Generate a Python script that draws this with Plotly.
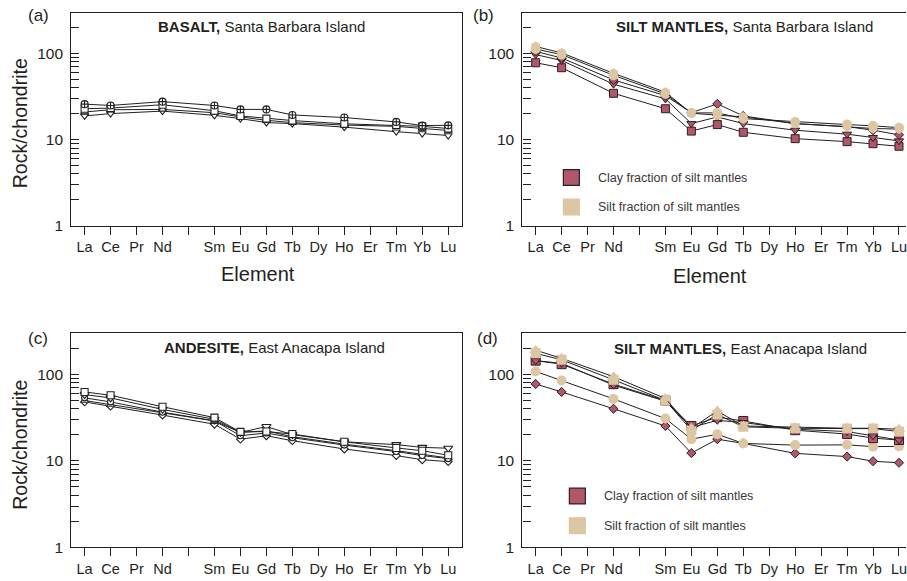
import math
import plotly.graph_objects as go

W, H = 907, 581

# ---------------- data ----------------
elements = ["La", "Ce", "Pr", "Nd", "Pm", "Sm", "Eu", "Gd", "Tb", "Dy", "Ho", "Er", "Tm", "Yb", "Lu"]
element_labels = ["La", "Ce", "Pr", "Nd", "", "Sm", "Eu", "Gd", "Tb", "Dy", "Ho", "Er", "Tm", "Yb", "Lu"]
analysed = ["La", "Ce", "Nd", "Sm", "Eu", "Gd", "Tb", "Ho", "Tm", "Yb", "Lu"]

# (a) basalt, Santa Barbara Island
basalt_1 = [25.9, 25.0, 27.7, 25.0, 22.5, 22.5, 19.4, 18.1, 16.1, 14.6, 14.7]
basalt_2 = [22.9, 23.3, 25.5, 21.7, 18.9, 17.6, 16.7, 15.3, 14.8, 14.3, 13.5]
basalt_3 = [21.0, 22.3, 22.5, 20.6, 18.4, 16.8, 15.8, 14.8, 14.3, 13.5, 12.8]
basalt_4 = [18.9, 20.1, 21.5, 19.2, 17.6, 15.8, 15.4, 14.0, 12.4, 11.8, 11.2]

# (b) silt mantles, Santa Barbara Island
sbi_clay_1 = [78.3, 68.6, 34.6, 22.9, 12.6, 15.0, 12.2, 10.3, 9.5, 9.0, 8.4]
sbi_clay_2 = [97.4, 83.2, 44.2, 29.8, 15.4, 18.4, 15.4, 12.9, 11.6, 10.6, 9.7]
sbi_clay_3 = [106, 89.0, 49.5, 32.5, 20.6, 26.1, 18.9, 15.4, 14.2, 12.9, 11.4]
sbi_silt_1 = [113, 97.4, 56.0, 34.0, 20.5, 20.5, 17.6, 16.1, 15.0, 14.5, 13.8]
sbi_silt_2 = [121, 102, 59.0, 35.6, 20.3, 19.2, 18.4, 15.4, 14.2, 13.5, 13.3]

# (c) andesite, East Anacapa Island
andesite_1 = [62.6, 57.3, 42.2, 31.6, 21.6, 21.8, 20.4, 16.6, 14.1, 13.1, 11.6]
andesite_2 = [58.3, 53.4, 39.3, 30.2, 21.3, 24.9, 20.1, 16.6, 15.4, 14.3, 14.0]
andesite_3 = [53.5, 48.0, 36.5, 29.0, 19.5, 21.0, 18.5, 15.2, 12.8, 11.5, 10.6]
andesite_4 = [49.8, 44.8, 36.0, 28.9, 21.3, 22.2, 19.0, 15.6, 13.1, 12.0, 10.8]
andesite_5 = [48.0, 42.9, 33.8, 26.5, 17.8, 19.5, 17.1, 13.7, 11.5, 10.3, 9.8]

# (d) silt mantles, East Anacapa Island
eai_clay_1 = [77.3, 62.6, 40.0, 25.3, 12.3, 17.8, 15.9, 12.2, 11.2, 9.9, 9.5]
eai_clay_2 = [144, 131, 77.0, 49.8, 25.3, 32.0, 28.9, 22.6, 20.4, 18.3, 17.4]
eai_clay_3 = [144, 134, 75.0, 48.9, 24.3, 29.4, 27.7, 23.2, 21.8, 19.5, 17.4]
eai_silt_1 = [108, 85.0, 52.0, 30.8, 17.8, 20.3, 15.9, 15.2, 15.3, 14.6, 14.7]
eai_silt_2 = [175, 147, 86.5, 49.8, 22.6, 34.4, 24.7, 23.8, 23.6, 23.6, 21.8]
eai_silt_3 = [190, 153, 94.0, 52.5, 23.8, 37.6, 25.3, 24.3, 23.8, 23.8, 23.2]

# ---------------- styles ----------------
INK = "#231f20"
CLAY = "#b1576b"
CLAY_EDGE = "#2e1e22"
SILT = "#dcc6a3"
FONT = "Liberation Sans, Arial, sans-serif"


def px(x):
    return x / W


def py(y):
    return 1 - y / H


fig = go.Figure()


def open_series(xa, ya, vals, symbol, size=7):
    fig.add_trace(go.Scatter(
        x=analysed, y=vals, xaxis=xa, yaxis=ya, mode="lines+markers",
        line=dict(color=INK, width=1),
        marker=dict(symbol=symbol, size=size, color="white",
                    line=dict(color=INK, width=1.1)),
        showlegend=False, hoverinfo="skip"))


def clay_series(xa, ya, vals, symbol, size=7):
    fig.add_trace(go.Scatter(
        x=analysed, y=vals, xaxis=xa, yaxis=ya, mode="lines+markers",
        line=dict(color=INK, width=1),
        marker=dict(symbol=symbol, size=size, color=CLAY,
                    line=dict(color=CLAY_EDGE, width=1)),
        showlegend=False, hoverinfo="skip"))


def silt_series(xa, ya, vals, symbol, size=9):
    fig.add_trace(go.Scatter(
        x=analysed, y=vals, xaxis=xa, yaxis=ya, mode="lines+markers",
        line=dict(color=INK, width=1),
        marker=dict(symbol=symbol, size=size, color=SILT,
                    line=dict(color=SILT, width=0)),
        showlegend=False, hoverinfo="skip"))


# (a)
open_series("x", "y", basalt_4, "triangle-down")
open_series("x", "y", basalt_3, "triangle-up")
open_series("x", "y", basalt_2, "square")
open_series("x", "y", basalt_1, "circle-cross")

# (b)
clay_series("x2", "y2", sbi_clay_1, "square", 8)
clay_series("x2", "y2", sbi_clay_2, "triangle-down", 8)
clay_series("x2", "y2", sbi_clay_3, "diamond", 7)
silt_series("x2", "y2", sbi_silt_1, "circle", 10)
silt_series("x2", "y2", sbi_silt_2, "hexagon", 10)

# (c)
open_series("x3", "y3", andesite_5, "diamond", 6)
open_series("x3", "y3", andesite_4, "triangle-up")
open_series("x3", "y3", andesite_3, "circle", 6)
open_series("x3", "y3", andesite_2, "triangle-down", 8)
open_series("x3", "y3", andesite_1, "square")

# (d)
clay_series("x4", "y4", eai_clay_1, "diamond", 7)
silt_series("x4", "y4", eai_silt_1, "circle", 10)
clay_series("x4", "y4", eai_clay_2, "square", 9)
clay_series("x4", "y4", eai_clay_3, "triangle-down", 8)
silt_series("x4", "y4", eai_silt_2, "square", 10)
silt_series("x4", "y4", eai_silt_3, "triangle-up", 11)

# ---------------- axes ----------------
left_dom = [px(71.3), px(463)]
right_dom = [px(523), 1.0]
top_dom = [py(229), py(12.7)]
bot_dom = [py(555), py(337.7)]

minor_vals = [2, 3, 4, 5, 6, 7, 8, 9, 20, 30, 40, 50, 60, 70, 80, 90, 200, 300]


def xaxis(domain, anchor, rng):
    return dict(
        domain=domain, anchor=anchor, type="category",
        categoryorder="array", categoryarray=elements,
        range=rng, tickmode="array", tickvals=elements, ticktext=element_labels,
        ticks="outside", ticklen=8, tickwidth=1, tickcolor=INK,
        showline=True, linecolor=INK, linewidth=1.2, mirror=True,
        showgrid=False, zeroline=False,
        tickfont=dict(family=FONT, size=14.5, color=INK))


def yaxis(domain, anchor, mirror):
    return dict(
        domain=domain, anchor=anchor, type="log",
        range=[0, math.log10(300)],
        tickmode="array", tickvals=[1, 10, 100], ticktext=["1", "10", "100"],
        ticks="inside", ticklen=8, tickwidth=1, tickcolor=INK,
        minor=dict(tickmode="array", tickvals=minor_vals, ticks="inside",
                   ticklen=8, tickwidth=1, tickcolor=INK, showgrid=False),
        showline=True, linecolor=INK, linewidth=1.2, mirror=mirror,
        showgrid=False, zeroline=False, ticklabelstandoff=4,
        tickfont=dict(family=FONT, size=15.5, color=INK))


fig.update_layout(
    width=W, height=H, margin=dict(l=0, r=0, t=0, b=0),
    paper_bgcolor="white", plot_bgcolor="white", showlegend=False,
    xaxis=xaxis(left_dom, "y", [-0.515, 14.55]),
    yaxis=yaxis(top_dom, "x", True),
    xaxis2=xaxis(right_dom, "y2", [-0.51, 14.27]),
    yaxis2=yaxis(top_dom, "x2", False),
    xaxis3=xaxis(left_dom, "y3", [-0.515, 14.55]),
    yaxis3=yaxis(bot_dom, "x3", True),
    xaxis4=xaxis(right_dom, "y4", [-0.51, 14.27]),
    yaxis4=yaxis(bot_dom, "x4", False),
)

# ---------------- text ----------------
anns = []


def text(x, y, s, size, xanchor="left", angle=0, color=INK):
    anns.append(dict(x=px(x), y=py(y), xref="paper", yref="paper", text=s,
                     showarrow=False, xanchor=xanchor, yanchor="middle",
                     textangle=angle,
                     font=dict(family=FONT, size=size, color=color)))


text(26, 16, "(a)", 17)
text(472, 16, "(b)", 17)
text(26, 343, "(c)", 17)
text(476, 343, "(d)", 17)

text(156, 27, "<b>BASALT,</b> Santa Barbara Island", 15)
text(615, 27, "<b>SILT MANTLES,</b> Santa Barbara Island", 15)
text(162, 352, "<b>ANDESITE,</b> East Anacapa Island", 15)
text(613, 353, "<b>SILT MANTLES,</b> East Anacapa Island", 15)

text(258, 278, "Element", 20, xanchor="center")
text(711, 280, "Element", 20, xanchor="center")
text(20, 125, "Rock/chondrite", 19.5, xanchor="center", angle=-90)
text(20, 451, "Rock/chondrite", 19.5, xanchor="center", angle=-90)

# legends
legend_items = [
    (572, 180, 597, CLAY, CLAY_EDGE, "Clay fraction of silt mantles"),
    (572, 210, 597, SILT, SILT, "Silt fraction of silt mantles"),
    (578, 503, 603, CLAY, CLAY_EDGE, "Clay fraction of silt mantles"),
    (578, 533, 603, SILT, SILT, "Silt fraction of silt mantles"),
]
shapes = []
for cx, cy, tx, fill, edge, label in legend_items:
    shapes.append(dict(type="rect", xref="paper", yref="paper",
                       x0=px(cx - 8), x1=px(cx + 8), y0=py(cy + 8), y1=py(cy - 8),
                       fillcolor=fill, line=dict(color=edge, width=1.2)))
    text(tx, cy, label, 12.5, color="#3b3738")

fig.update_layout(annotations=anns, shapes=shapes)

fig.write_html("out.html")
